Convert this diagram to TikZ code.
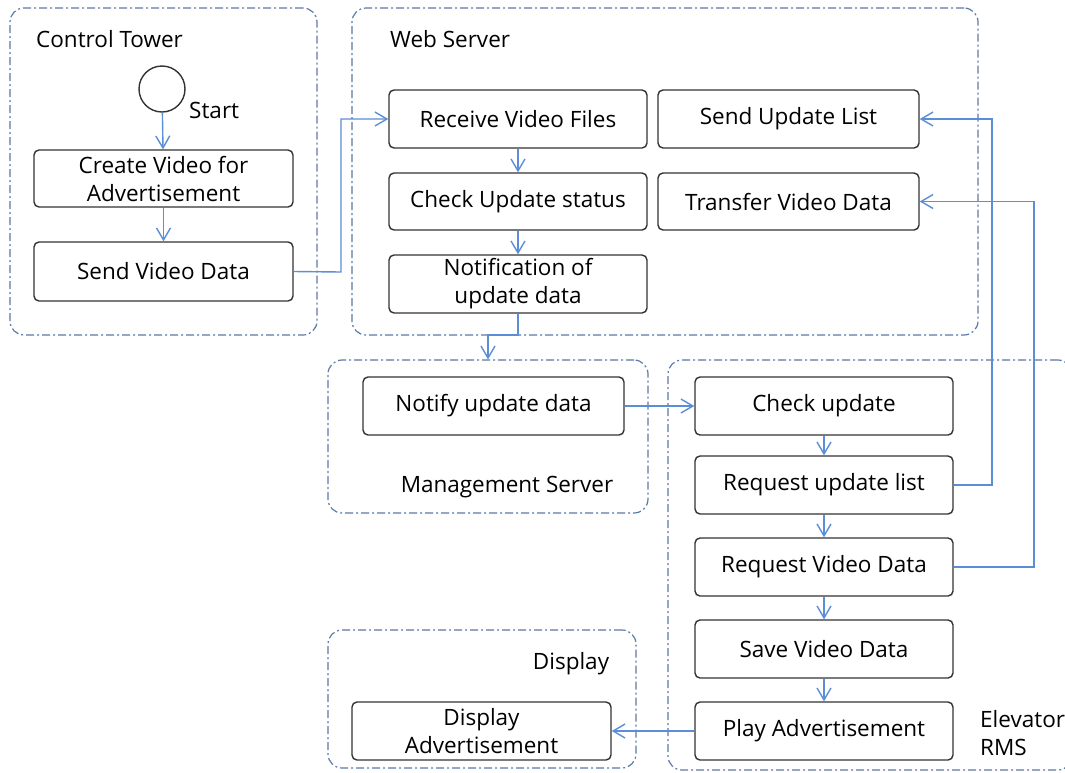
\documentclass[tikz,border=0pt]{standalone}
\usepackage{fontspec}
\setmainfont{Open Sans}
\usetikzlibrary{arrows.meta}
\definecolor{cont}{HTML}{5A7AA8}
\definecolor{arr}{HTML}{5B8ED6}
\definecolor{boxc}{HTML}{333333}
\begin{document}
\begin{tikzpicture}[x=1pt,y=-1pt,
  every node/.style={font=\fontsize{22.5}{28}\selectfont, inner sep=0pt},
  box/.style={draw=boxc, line width=1.4pt, rounded corners=5pt, align=center, fill=white},
  cont/.style={draw=cont, line width=1.2pt, rounded corners=14pt, dash pattern=on 8pt off 3pt on 2pt off 3pt},
  conn/.style={draw=arr, line width=1.4pt, -{Straight Barb[length=12pt,width=14pt,line width=1.4pt]}},
  lbl/.style={anchor=west}]
\useasboundingbox (0,0) rectangle (1065,772);
\clip (0,0) rectangle (1065,772);
% containers
\node[cont, minimum width=307pt, minimum height=327pt] (ct) at (163.5,171.5) {};
\node[cont, minimum width=626pt, minimum height=327pt] (ws) at (665,171.5) {};
\node[cont, minimum width=320pt, minimum height=153pt] (ms) at (488,436.5) {};
\node[cont, minimum width=404pt, minimum height=410pt] (er) at (870,565) {};
\node[cont, minimum width=308pt, minimum height=138pt] (dp) at (482,699) {};
% container labels
\node[lbl] (lct) at (36,39) {Control Tower};
\node[lbl] (lws) at (390,39) {Web Server};
\node (lms) at (507,487) {Management Server};
\node (ldp) at (571,664) {Display};
\node[lbl, align=left] (ler) at (980,733) {Elevator\\RMS};
% start
\node[draw=boxc, circle, line width=1.4pt, minimum size=46pt] (start) at (162,89) {};
\node[lbl] (lstart) at (189,110) {Start};
% boxes
\node[box, minimum width=259pt, minimum height=57pt] (create) at (163.5,178.5) {Create Video for\\Advertisement};
\node[box, minimum width=259pt, minimum height=59pt] (send) at (163.5,271.5) {Send Video Data};
\node[box, minimum width=258pt, minimum height=58pt] (recv) at (518,119) {Receive Video Files};
\node[box, minimum width=258pt, minimum height=57pt] (check) at (518,201.5) {Check Update status};
\node[box, minimum width=258pt, minimum height=58pt] (notif) at (518,284) {Notification of\\update data};
\node[box, minimum width=261pt, minimum height=58pt] (slist) at (788.5,119) {Send Update List};
\node[box, minimum width=261pt, minimum height=57pt] (xfer) at (788.5,201.5) {Transfer Video Data};
\node[box, minimum width=261pt, minimum height=58pt] (notify) at (493.5,406) {Notify update data};
\node[box, minimum width=258pt, minimum height=58pt] (chk) at (824,406) {Check update};
\node[box, minimum width=258pt, minimum height=58pt] (rlist) at (824,485) {Request update list};
\node[box, minimum width=258pt, minimum height=58pt] (rvid) at (824,567) {Request Video Data};
\node[box, minimum width=258pt, minimum height=58pt] (save) at (824,649) {Save Video Data};
\node[box, minimum width=258pt, minimum height=58pt] (play) at (824,731) {Play Advertisement};
\node[box, minimum width=259pt, minimum height=58pt] (disp) at (481.5,731) {Display\\Advertisement};
% connectors
\coordinate (j1) at (341,272);
\coordinate (j2) at (488,335);
\coordinate (j3) at (992,485);
\coordinate (j4) at (1034,567);
\draw[conn] (start) -- (create);
\draw[conn] (create) -- (send);
\draw[conn] (send.east) -- (j1) |- (recv.west);
\draw[conn] (recv) -- (check);
\draw[conn] (check) -- (notif);
\draw[conn] (notif.south) |- (j2) -- (j2 |- ms.north);
\draw[conn] (notify) -- (chk);
\draw[conn] (chk) -- (rlist);
\draw[conn] (rlist.east) -- (j3) |- (slist.east);
\draw[conn] (rvid.east) -- (j4) |- (xfer.east);
\draw[conn] (rlist) -- (rvid);
\draw[conn] (rvid) -- (save);
\draw[conn] (save) -- (play);
\draw[conn] (play) -- (disp);
\end{tikzpicture}
\end{document}
